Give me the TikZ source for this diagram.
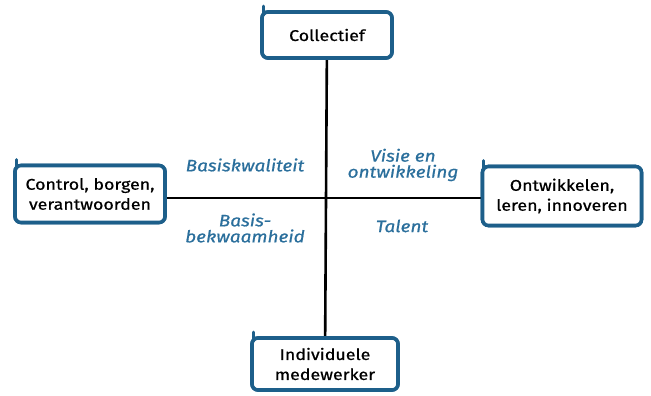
\documentclass[tikz,border=0pt]{standalone}
\usepackage{fontspec}
\setmainfont{Fira Sans}[FakeStretch=1.15]
\newfontfamily\handfont{Fira Sans}[FakeStretch=1.15, FakeBold=0.7]
\newfontfamily\handslant{Fira Sans Italic}[FakeStretch=1.15, FakeBold=0.7]
\usepackage{tikz}

\definecolor{boxblue}{HTML}{1D5F8A}
\definecolor{textblue}{HTML}{2B6F9C}

\begin{document}
\begin{tikzpicture}[x=1pt, y=-1pt,
  axis/.style = {line width=2.6pt, black},
  pole/.style = {draw=boxblue, line width=3.6pt, rounded corners=6pt, fill=white,
                 align=center, font=\handfont\fontsize{15.5}{20}\selectfont, inner sep=2pt},
  quad/.style = {text=textblue, align=center, font=\handslant\fontsize{16.5}{16}\selectfont}]
\useasboundingbox (0,0) rectangle (651,396);
\coordinate (mid) at (325,198);
\node[pole, minimum width=130pt, minimum height=46pt] (top) at (327,35) {Collectief};
\node[pole, minimum width=150pt, minimum height=57pt] (left) at (90,194) {Control, borgen,\\verantwoorden};
\node[pole, minimum width=159pt, minimum height=59pt] (right) at (562,196) {Ontwikkelen,\\leren, innoveren};
\node[pole, minimum width=146pt, minimum height=52pt] (bottom) at (325,364) {Individuele\\medewerker};
% axes
\draw[axis] (top) -- (bottom);
\draw[axis] (left.east |- mid) -- (right.west |- mid);
% redraw boxes on top of the axes
\node[pole, minimum width=130pt, minimum height=46pt] at (top) {Collectief};
\node[pole, minimum width=150pt, minimum height=57pt] at (left) {Control, borgen,\\verantwoorden};
\node[pole, minimum width=159pt, minimum height=59pt] at (right) {Ontwikkelen,\\leren, innoveren};
\node[pole, minimum width=146pt, minimum height=52pt] at (bottom) {Individuele\\medewerker};
% pen ticks
\foreach \b in {top,left,right,bottom}
  \draw[boxblue, line width=3pt, line cap=round] ([shift={(3,5)}]\b.north west) -- ([shift={(3,-4)}]\b.north west);
% quadrant labels
\node[quad] (q1) at (245,165) {Basiskwaliteit};
\node[quad] (q2) at (403,165) {Visie en\\ontwikkeling};
\node[quad] (q3) at (245,228) {Basis-\\bekwaamheid};
\node[quad] (q4) at (402,226) {Talent};
\end{tikzpicture}
\end{document}
